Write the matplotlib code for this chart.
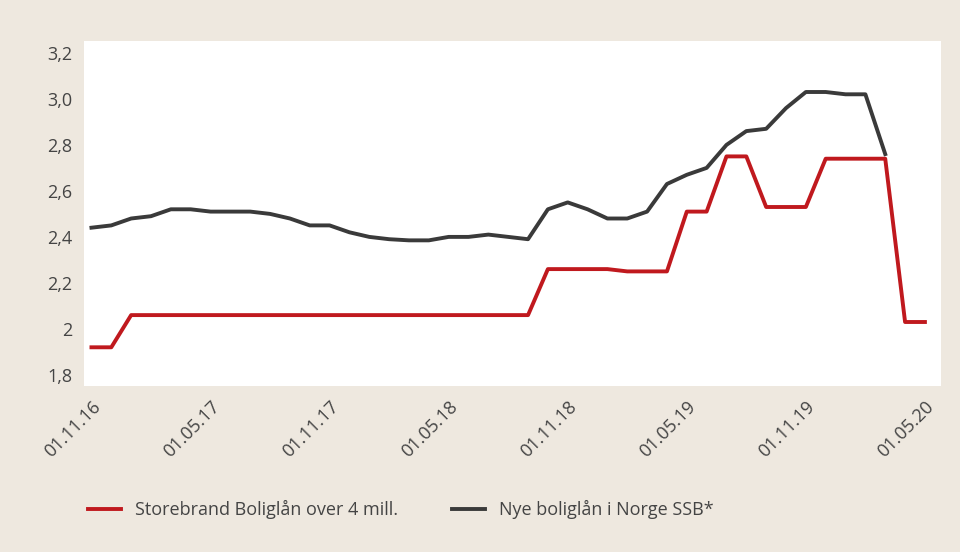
import numpy as np
import matplotlib.pyplot as plt

plt.rcParams["font.family"] = "Open Sans"

# monthly values, 01.11.16 .. 01.05.20
storebrand = [1.92, 1.92, 2.06, 2.06, 2.06, 2.06, 2.06, 2.06, 2.06, 2.06, 2.06, 2.06,
              2.06, 2.06, 2.06, 2.06, 2.06, 2.06, 2.06, 2.06, 2.06, 2.06, 2.06, 2.26,
              2.26, 2.26, 2.26, 2.25, 2.25, 2.25, 2.51, 2.51, 2.75, 2.75, 2.53, 2.53,
              2.53, 2.74, 2.74, 2.74, 2.74, 2.03, 2.03]
ssb = [2.44, 2.45, 2.48, 2.49, 2.52, 2.52, 2.51, 2.51, 2.51, 2.50, 2.48, 2.45,
       2.45, 2.42, 2.40, 2.39, 2.385, 2.385, 2.40, 2.40, 2.41, 2.40, 2.39, 2.52,
       2.55, 2.52, 2.48, 2.48, 2.51, 2.63, 2.67, 2.70, 2.80, 2.86, 2.87, 2.96,
       3.03, 3.03, 3.02, 3.02, 2.76]
xtick_labels = ["01.11.16", "01.05.17", "01.11.17", "01.05.18", "01.11.18", "01.05.19", "01.11.19", "01.05.20"]
ytick_vals = [1.8, 2.0, 2.2, 2.4, 2.6, 2.8, 3.0, 3.2]
ytick_labels = ["1,8", "2", "2,2", "2,4", "2,6", "2,8", "3,0", "3,2"]

bg = "#eee8df"
fig = plt.figure(figsize=(9.6, 5.52), dpi=100, facecolor=bg)
ax = fig.add_axes([0.087, 0.30, 0.893, 0.625])
ax.set_facecolor("white")
ax.plot(range(len(storebrand)), storebrand, color="#c0191e", lw=2.8, label="Storebrand Boliglån over 4 mill.")
ax.plot(range(len(ssb)), ssb, color="#3a3a3a", lw=2.8, label="Nye boliglån i Norge SSB*")
ax.set_xlim(-0.4, 42.8)
ax.set_ylim(1.75, 3.25)
ax.set_xticks(range(0, 43, 6))
ax.set_xticklabels(xtick_labels, rotation=45, ha="right", rotation_mode="anchor", fontsize=13, color="#444444")
ax.set_yticks(ytick_vals)
ax.set_yticklabels(ytick_labels, fontsize=13, color="#444444")
ax.tick_params(length=0, pad=8)
for s in ax.spines.values():
    s.set_visible(False)
fig.legend(loc="lower left", bbox_to_anchor=(0.075, 0.03), ncol=2, frameon=False,
           fontsize=13, labelcolor="#444444", handlelength=1.8, columnspacing=3)
plt.savefig("out.png", dpi=100, facecolor=bg)
